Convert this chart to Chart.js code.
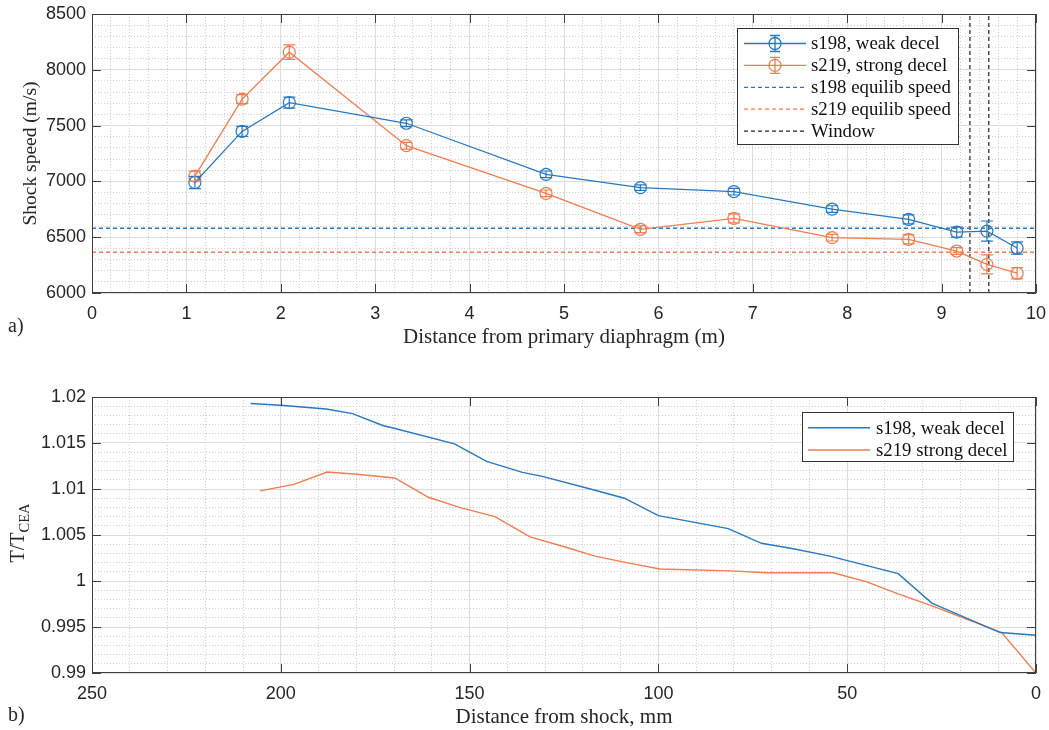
<!DOCTYPE html>
<html>
<head>
<meta charset="utf-8">
<script src="https://cdn.jsdelivr.net/npm/chart.js@4.4.0/dist/chart.umd.min.js"></script>
<style>
    body { margin: 0; background: #fff; }
    canvas { position: absolute; left: 0; }
    #speed-chart { top: 0; }
    #temp-chart { top: 365px; }
</style>
</head>
<body>
<canvas id="speed-chart" width="1049" height="365"></canvas>
<canvas id="temp-chart" width="1049" height="365"></canvas>
<script>
// a) shock speed along the tube
const distance = [1.09, 1.59, 2.09, 3.33, 4.81, 5.81, 6.80, 7.84, 8.65, 9.16, 9.48, 9.80];
const s198Speed = [6990, 7448, 7706, 7521, 7063, 6944, 6908, 6752, 6660, 6545, 6555, 6403];
const s198Err = [55, 45, 50, 30, 30, 25, 30, 30, 40, 45, 90, 55];
const s219Speed = [7047, 7737, 8158, 7320, 6893, 6571, 6669, 6496, 6481, 6376, 6257, 6177];
const s219Err = [45, 40, 65, 30, 30, 30, 40, 30, 40, 30, 85, 50];
const equilibSpeed = [6580, 6365];   // s198, s219
const windowPos = [9.3, 9.5];
const distTicks = [0, 1, 2, 3, 4, 5, 6, 7, 8, 9, 10];
const speedTicks = [6000, 6500, 7000, 7500, 8000, 8500];

// b) temperature ratio behind the shock
const shockDist198 = [208, 200, 188, 181, 173, 170, 154, 145.5, 136, 131, 118, 109, 100, 81.5, 72.7, 64.3, 54.6, 36.5, 27.6, 9.5, 0];
const ratio198 = [1.0193, 1.0191, 1.0187, 1.0182, 1.0169, 1.0166, 1.0149, 1.0130, 1.0118, 1.0114, 1.0100, 1.0090, 1.0071, 1.0057, 1.0041, 1.0035, 1.0027, 1.0008, 0.9976, 0.9944, 0.9941];
const shockDist219 = [205.5, 196.5, 187.7, 179.9, 169.8, 160.9, 152.7, 143.3, 134.0, 124.7, 116.8, 108.4, 99.6, 81.0, 71.3, 53.7, 44.8, 36.5, 27.2, 9.1, 0];
const ratio219 = [1.0098, 1.0105, 1.01185, 1.0116, 1.0112, 1.0091, 1.0080, 1.0070, 1.0048, 1.0037, 1.0027, 1.0020, 1.0013, 1.0011, 1.0009, 1.0009, 0.9999, 0.9986, 0.99725, 0.9944, 0.9900];
const shockTicks = [0, 50, 100, 150, 200, 250];
const ratioTicks = [0.99, 0.995, 1, 1.005, 1.01, 1.015, 1.02];

const BLUE = '#2878be';
const ORANGE = '#f07c4f';
const INK = '#262626';
const sans = 'Liberation Sans, Arial, sans-serif';
const serif = 'Liberation Serif, Times New Roman, serif';

function isMajor(v, majors) {
    return majors.some(m => Math.abs(m - v) < 1e-7);
}

function pairs(xs, ys) {
    return xs.map((x, i) => ({ x, y: ys[i] }));
}

// major grid solid, minor grid dotted
function axis(majors, step, pad, extra) {
    return Object.assign({
        type: 'linear',
        grid: {
            color: ctx => ctx.tick && isMajor(ctx.tick.value, majors) ? '#dcdcdc' : '#d0d0d0',
            drawTicks: false
        },
        border: {
            display: false,
            dash: ctx => ctx.tick && !isMajor(ctx.tick.value, majors) ? [1, 2] : []
        },
        ticks: {
            stepSize: step,
            padding: pad,
            autoSkip: false,
            maxRotation: 0,
            maxTicksLimit: 1000,
            font: { family: sans, size: 18 },
            color: INK,
            callback: v => isMajor(v, majors) ? String(majors.find(m => Math.abs(m - v) < 1e-7)) : ''
        }
    }, extra);
}

// fixed axis band; layout padding alone sets the plot box
function fixSize(prop, size) {
    return s => {
        s[prop] = size;
        s.paddingLeft = s.paddingRight = s.paddingTop = s.paddingBottom = 0;
    };
}

// box with inward tick marks on all four sides
const frame = {
    id: 'frame',
    afterDraw(chart, args, opts) {
        const { ctx, chartArea: a, scales: { x, y } } = chart;
        ctx.save();
        ctx.strokeStyle = '#404040';
        ctx.lineWidth = 1;
        ctx.strokeRect(a.left + 0.5, a.top + 0.5, a.right - a.left - 1, a.bottom - a.top - 1);
        ctx.beginPath();
        opts.xMajors.forEach(v => {
            const px = Math.round(x.getPixelForValue(v)) + 0.5;
            ctx.moveTo(px, a.bottom); ctx.lineTo(px, a.bottom - 9);
            ctx.moveTo(px, a.top); ctx.lineTo(px, a.top + 9);
        });
        opts.yMajors.forEach(v => {
            const py = Math.round(y.getPixelForValue(v)) + 0.5;
            ctx.moveTo(a.left, py); ctx.lineTo(a.left + 9, py);
            ctx.moveTo(a.right, py); ctx.lineTo(a.right - 9, py);
        });
        ctx.stroke();

        ctx.fillStyle = INK;
        ctx.font = '20px ' + serif;
        ctx.textBaseline = 'middle';
        ctx.textAlign = 'left';
        ctx.fillText(opts.panel, 8, opts.panelY);
        ctx.restore();
    }
};

const errorBars = {
    id: 'errorBars',
    afterDatasetsDraw(chart, args, opts) {
        const { ctx, scales: { x, y } } = chart;
        (opts.sets || []).forEach(set => {
            const ds = chart.data.datasets[set.dataset];
            ctx.save();
            ctx.strokeStyle = ds.borderColor;
            ctx.lineWidth = 1.2;
            ctx.beginPath();
            ds.data.forEach((p, i) => {
                const px = x.getPixelForValue(p.x);
                const top = y.getPixelForValue(p.y + set.err[i]);
                const bot = y.getPixelForValue(p.y - set.err[i]);
                ctx.moveTo(px, top); ctx.lineTo(px, bot);
                ctx.moveTo(px - 6, top); ctx.lineTo(px + 6, top);
                ctx.moveTo(px - 6, bot); ctx.lineTo(px + 6, bot);
            });
            ctx.stroke();
            ctx.restore();
        });
    }
};

const boxLegend = {
    id: 'boxLegend',
    afterDraw(chart, args, opts) {
        const { ctx } = chart;
        const b = opts.box;
        ctx.save();
        ctx.fillStyle = '#fff';
        ctx.fillRect(b.left, b.top, b.width, b.height);
        ctx.strokeStyle = '#333';
        ctx.lineWidth = 1;
        ctx.strokeRect(b.left + 0.5, b.top + 0.5, b.width, b.height);
        opts.items.forEach((it, i) => {
            const ds = chart.data.datasets[it.dataset];
            const yy = b.firstRow + i * b.rowStep;
            ctx.strokeStyle = ds.borderColor;
            ctx.lineWidth = ds.borderWidth;
            ctx.setLineDash(ds.borderDash || []);
            ctx.beginPath();
            ctx.moveTo(b.lineFrom, yy); ctx.lineTo(b.lineTo, yy);
            ctx.stroke();
            ctx.setLineDash([]);
            if (it.marker) {
                const cx = (b.lineFrom + b.lineTo) / 2;
                ctx.beginPath();
                ctx.arc(cx, yy, 6, 0, Math.PI * 2);
                ctx.moveTo(cx, yy - 8); ctx.lineTo(cx, yy + 8);
                ctx.moveTo(cx - 5, yy - 8); ctx.lineTo(cx + 5, yy - 8);
                ctx.moveTo(cx - 5, yy + 8); ctx.lineTo(cx + 5, yy + 8);
                ctx.stroke();
            }
            ctx.fillStyle = '#111';
            ctx.font = '18.8px ' + serif;
            ctx.textBaseline = 'middle';
            ctx.textAlign = 'left';
            ctx.fillText(ds.label, b.textX, yy + 1);
        });
        ctx.restore();
    }
};

// T/T_CEA with subscript, rotated
const ratioTitle = {
    id: 'ratioTitle',
    afterDraw(chart) {
        const { ctx } = chart;
        ctx.save();
        ctx.translate(24, 168);
        ctx.rotate(-Math.PI / 2);
        ctx.fillStyle = INK;
        ctx.textBaseline = 'alphabetic';
        ctx.font = '20px ' + serif;
        const main = 'T/T';
        const wMain = ctx.measureText(main).width;
        ctx.font = '14.5px ' + serif;
        const wSub = ctx.measureText('CEA').width;
        const start = -(wMain + wSub) / 2;
        ctx.font = '20px ' + serif;
        ctx.fillText(main, start, 0);
        ctx.font = '14.5px ' + serif;
        ctx.fillText('CEA', start + wMain, 5);
        ctx.restore();
    }
};

const speedDatasets = [
    {
        label: 's198, weak decel',
        data: pairs(distance, s198Speed),
        borderColor: BLUE,
        borderWidth: 1.3,
        pointRadius: 6,
        pointBorderWidth: 1.2,
        pointBackgroundColor: 'rgba(0,0,0,0)',
        pointBorderColor: BLUE
    },
    {
        label: 's219, strong decel',
        data: pairs(distance, s219Speed),
        borderColor: ORANGE,
        borderWidth: 1.3,
        pointRadius: 6,
        pointBorderWidth: 1.2,
        pointBackgroundColor: 'rgba(0,0,0,0)',
        pointBorderColor: ORANGE
    },
    {
        label: 's198 equilib speed',
        data: [{ x: 0, y: equilibSpeed[0] }, { x: 10, y: equilibSpeed[0] }],
        borderColor: BLUE,
        borderWidth: 1.3,
        borderDash: [4, 3],
        pointRadius: 0
    },
    {
        label: 's219 equilib speed',
        data: [{ x: 0, y: equilibSpeed[1] }, { x: 10, y: equilibSpeed[1] }],
        borderColor: ORANGE,
        borderWidth: 1.3,
        borderDash: [4, 3],
        pointRadius: 0
    },
    {
        label: 'Window',
        data: [{ x: windowPos[0], y: 6000 }, { x: windowPos[0], y: 8500 }],
        borderColor: '#222',
        borderWidth: 1.2,
        borderDash: [4, 3],
        pointRadius: 0
    },
    {
        label: 'Window',
        data: [{ x: windowPos[1], y: 6000 }, { x: windowPos[1], y: 8500 }],
        borderColor: '#222',
        borderWidth: 1.2,
        borderDash: [4, 3],
        pointRadius: 0
    }
];

new Chart(document.getElementById('speed-chart'), {
    type: 'line',
    data: { datasets: speedDatasets },
    options: {
        responsive: false,
        animation: false,
        devicePixelRatio: 1,
        layout: { padding: { left: 0, top: 14, right: 13, bottom: 0 } },
        plugins: {
            legend: { display: false },
            tooltip: { enabled: false },
            frame: { xMajors: distTicks, yMajors: speedTicks, panel: 'a)', panelY: 327 },
            errorBars: { sets: [{ dataset: 0, err: s198Err }, { dataset: 1, err: s219Err }] },
            boxLegend: {
                box: { left: 737, top: 28, width: 221, height: 116, firstRow: 43.5, rowStep: 21.9, lineFrom: 744, lineTo: 806, textX: 811 },
                items: [{ dataset: 0, marker: true }, { dataset: 1, marker: true }, { dataset: 2 }, { dataset: 3 }, { dataset: 4 }]
            }
        },
        scales: {
            x: axis(distTicks, 0.2, 10, {
                min: 0, max: 10,
                afterFit: fixSize('height', 72),
                title: {
                    display: true,
                    text: 'Distance from primary diaphragm (m)',
                    font: { family: serif, size: 21 },
                    color: INK,
                    padding: { top: 0, bottom: 15 }
                }
            }),
            y: axis(speedTicks, 100, 6, {
                min: 6000, max: 8500,
                afterFit: fixSize('width', 92),
                title: {
                    display: true,
                    text: 'Shock speed (m/s)',
                    font: { family: serif, size: 19.5 },
                    color: INK,
                    padding: { top: 19, bottom: 0 }
                }
            })
        }
    },
    plugins: [errorBars, frame, boxLegend]
});

new Chart(document.getElementById('temp-chart'), {
    type: 'line',
    data: {
        datasets: [
            {
                label: 's198, weak decel',
                data: pairs(shockDist198, ratio198),
                borderColor: BLUE,
                borderWidth: 1.4,
                pointRadius: 0
            },
            {
                label: 's219 strong decel',
                data: pairs(shockDist219, ratio219),
                borderColor: ORANGE,
                borderWidth: 1.4,
                pointRadius: 0
            }
        ]
    },
    options: {
        responsive: false,
        animation: false,
        devicePixelRatio: 1,
        layout: { padding: { left: 0, top: 32, right: 13, bottom: 0 } },
        plugins: {
            legend: { display: false },
            tooltip: { enabled: false },
            frame: { xMajors: shockTicks, yMajors: ratioTicks, panel: 'b)', panelY: 351 },
            boxLegend: {
                box: { left: 802, top: 47, width: 211, height: 49, firstRow: 62.7, rowStep: 22.3, lineFrom: 808, lineTo: 870, textX: 876 },
                items: [{ dataset: 0 }, { dataset: 1 }]
            }
        },
        scales: {
            x: axis(shockTicks, 10, 10, {
                min: 0, max: 250,
                reverse: true,
                afterFit: fixSize('height', 57),
                title: {
                    display: true,
                    text: 'Distance from shock, mm',
                    font: { family: serif, size: 21 },
                    color: INK,
                    padding: { top: 0, bottom: 0 }
                }
            }),
            y: axis(ratioTicks, 0.001, 6, {
                min: 0.99, max: 1.02,
                afterFit: fixSize('width', 92)
            })
        }
    },
    plugins: [frame, boxLegend, ratioTitle]
});
</script>
</body>
</html>
